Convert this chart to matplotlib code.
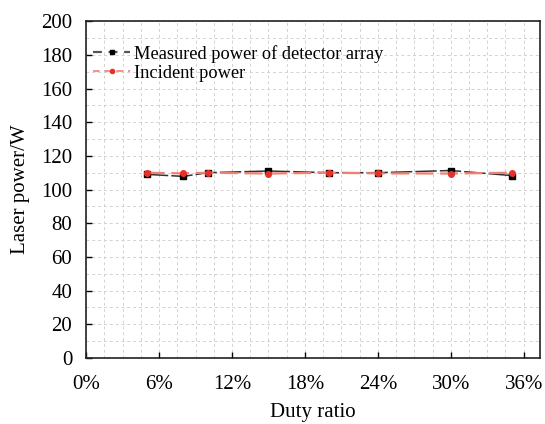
import matplotlib
matplotlib.use("Agg")
import matplotlib.pyplot as plt
from matplotlib.ticker import MultipleLocator, FuncFormatter
from matplotlib.lines import Line2D

duty = [0.05, 0.08, 0.10, 0.15, 0.20, 0.24, 0.30, 0.35]
measured = [109.0, 107.8, 110.0, 111.0, 110.0, 110.0, 111.3, 108.3]
incident = [110.0, 109.6, 110.0, 109.5, 110.0, 109.6, 109.5, 110.0]

plt.rcParams['font.family'] = ['Liberation Serif', 'DejaVu Serif']

fig = plt.figure(figsize=(5.45, 4.24), dpi=100)
ax = fig.add_axes([0.158, 0.156, 0.833, 0.794])

ax.plot(duty, incident, color='#f08070', lw=1.6, dashes=(8, 3),
        marker='o', ms=4, mfc='#e8302a', mec='#e8302a', zorder=3)
ax.plot(duty, measured, color='#333333', lw=1.1, dashes=(14, 2),
        marker='s', ms=4, mfc='black', mec='black', zorder=2)

ax.set_xlim(0, 0.3735)
ax.set_ylim(0, 200)
ax.xaxis.set_major_locator(MultipleLocator(0.06))
ax.xaxis.set_minor_locator(MultipleLocator(0.015))
ax.yaxis.set_major_locator(MultipleLocator(20))
ax.yaxis.set_minor_locator(MultipleLocator(10))
ax.xaxis.set_major_formatter(FuncFormatter(lambda v, p: f"{round(v*100)}%"))

ax.grid(True, which='both', color='#d2d2d2', ls=(0, (3, 3)), lw=0.7)
ax.set_axisbelow(True)
ax.tick_params(which='major', direction='in', length=4, width=1, labelsize=15)
ax.tick_params(axis='x', pad=12)
ax.tick_params(axis='y', pad=10)
ax.tick_params(which='minor', length=0)
for s in ax.spines.values():
    s.set_linewidth(1.2)
    s.set_color('#222222')

ax.set_xlabel('Duty ratio', fontsize=15, labelpad=7)
ax.set_ylabel('Laser power/W', fontsize=15, labelpad=8)

handles = [
    Line2D([], [], color='#555555', lw=1.6, dashes=(4, 3), marker='s', ms=3.5,
           mfc='black', mec='black'),
    Line2D([], [], color='#f08070', lw=1.2, dashes=(4, 3), marker='o', ms=3,
           mfc='#e8302a', mec='#e8302a'),
]
labels = ['Measured power of detector array', 'Incident power']
ax.legend(handles, labels, loc='upper left', bbox_to_anchor=(-0.012, 0.968), frameon=False,
          fontsize=13.2, handlelength=2.0, handletextpad=0.2, labelspacing=0.1, borderaxespad=0.3)

fig.savefig('out.png', dpi=100)
